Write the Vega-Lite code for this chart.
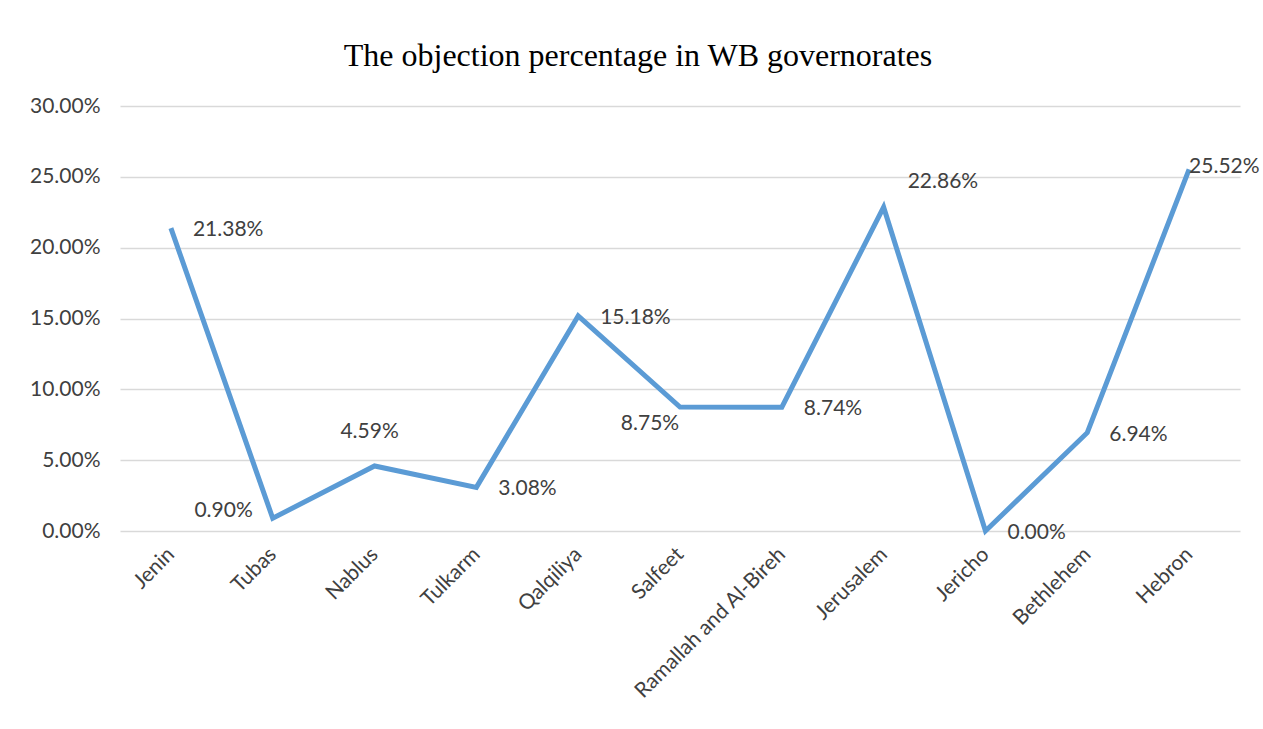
{
  "$schema": "https://vega.github.io/schema/vega-lite/v6.json",
  "autosize": "none",
  "width": 1120,
  "height": 425,
  "padding": {"left": 120, "top": 106, "right": 23, "bottom": 198},
  "background": "white",
  "title": {
    "text": "The objection percentage in WB governorates",
    "font": "Liberation Serif",
    "fontSize": 32,
    "fontWeight": "normal",
    "color": "#000000",
    "anchor": "middle",
    "dx": -42,
    "offset": 22
  },
  "data": {
    "values": [
      {"gov": "Jenin", "pct": 0.2138, "pos": "A"},
      {"gov": "Tubas", "pct": 0.0090, "pos": "B"},
      {"gov": "Nablus", "pct": 0.0459, "pos": "C"},
      {"gov": "Tulkarm", "pct": 0.0308, "pos": "A"},
      {"gov": "Qalqiliya", "pct": 0.1518, "pos": "A"},
      {"gov": "Salfeet", "pct": 0.0875, "pos": "D"},
      {"gov": "Ramallah and Al-Bireh", "pct": 0.0874, "pos": "A"},
      {"gov": "Jerusalem", "pct": 0.2286, "pos": "E"},
      {"gov": "Jericho", "pct": 0.0000, "pos": "A"},
      {"gov": "Bethlehem", "pct": 0.0694, "pos": "A"},
      {"gov": "Hebron", "pct": 0.2552, "pos": "F"}
    ]
  },
  "encoding": {
    "x": {
      "field": "gov", "type": "ordinal", "sort": null,
      "scale": {"type": "point", "padding": 0.5},
      "axis": {
        "title": null, "labelAngle": -45, "labelFont": "Lato", "labelFontSize": 21,
        "labelColor": "#404040", "domain": false, "ticks": false, "labelPadding": 20,
        "grid": false, "labelAlign": "right", "labelBaseline": "middle", "labelLimit": 500
      }
    },
    "y": {
      "field": "pct", "type": "quantitative",
      "scale": {"domain": [0, 0.3], "nice": false},
      "axis": {
        "title": null, "format": ".2%", "values": [0, 0.05, 0.1, 0.15, 0.2, 0.25, 0.3],
        "labelFont": "Lato", "labelFontSize": 21, "labelColor": "#404040",
        "domain": false, "ticks": false, "labelPadding": 20,
        "gridColor": "#d9d9d9", "gridWidth": 1.5
      }
    }
  },
  "layer": [
    {"mark": {"type": "line", "color": "#5b9bd5", "strokeWidth": 5, "strokeJoin": "miter"}},
    {"transform": [{"filter": "datum.pos == 'A'"}],
     "mark": {"type": "text", "align": "left", "baseline": "middle", "dx": 22, "dy": 2, "font": "Lato", "fontSize": 21, "color": "#404040"},
     "encoding": {"text": {"field": "pct", "type": "quantitative", "format": ".2%"}}},
    {"transform": [{"filter": "datum.pos == 'B'"}],
     "mark": {"type": "text", "align": "right", "baseline": "middle", "dx": -20, "dy": -7, "font": "Lato", "fontSize": 21, "color": "#404040"},
     "encoding": {"text": {"field": "pct", "type": "quantitative", "format": ".2%"}}},
    {"transform": [{"filter": "datum.pos == 'C'"}],
     "mark": {"type": "text", "align": "center", "baseline": "middle", "dx": -5, "dy": -34, "font": "Lato", "fontSize": 21, "color": "#404040"},
     "encoding": {"text": {"field": "pct", "type": "quantitative", "format": ".2%"}}},
    {"transform": [{"filter": "datum.pos == 'D'"}],
     "mark": {"type": "text", "align": "center", "baseline": "middle", "dx": -30, "dy": 17, "font": "Lato", "fontSize": 21, "color": "#404040"},
     "encoding": {"text": {"field": "pct", "type": "quantitative", "format": ".2%"}}},
    {"transform": [{"filter": "datum.pos == 'E'"}],
     "mark": {"type": "text", "align": "left", "baseline": "middle", "dx": 24, "dy": -25, "font": "Lato", "fontSize": 21, "color": "#404040"},
     "encoding": {"text": {"field": "pct", "type": "quantitative", "format": ".2%"}}},
    {"transform": [{"filter": "datum.pos == 'F'"}],
     "mark": {"type": "text", "align": "left", "baseline": "middle", "dx": 0, "dy": -2, "font": "Lato", "fontSize": 21, "color": "#404040"},
     "encoding": {"text": {"field": "pct", "type": "quantitative", "format": ".2%"}}}
  ],
  "config": {"view": {"stroke": null}}
}
